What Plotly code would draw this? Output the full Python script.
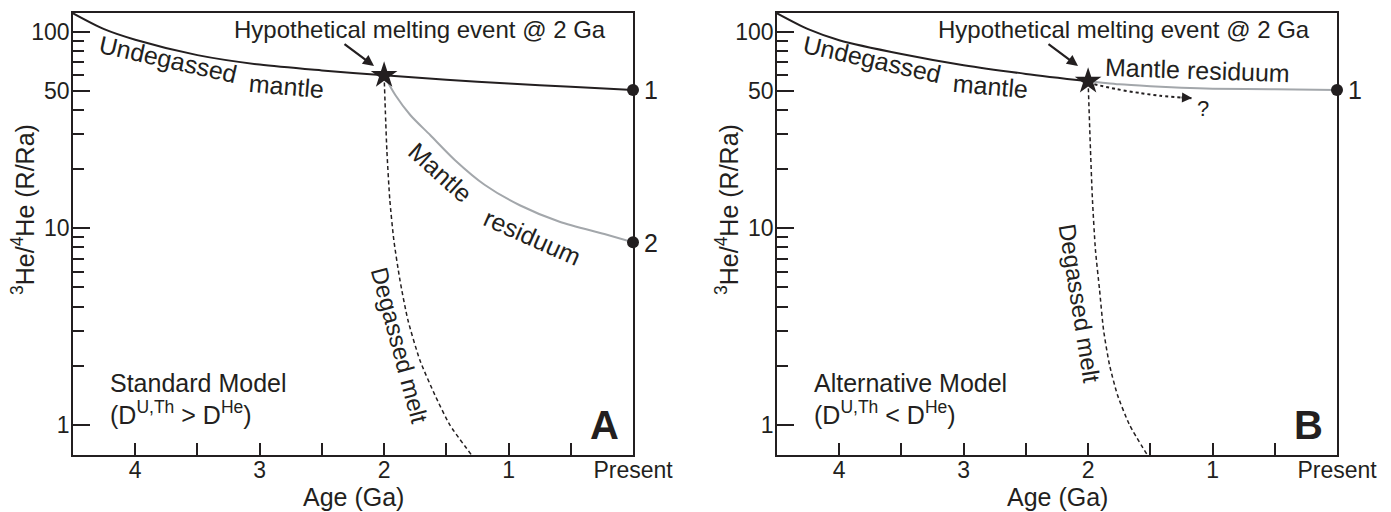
import plotly.graph_objects as go

W, H = 1391, 512
INK = "#231f20"
GRAY = "#a3a7ab"
FONT = "Liberation Sans, Arial, Helvetica, sans-serif"

# ---------------- data ----------------
# Panel A (Standard Model)
age_und_A = [4.5, 4.25, 4.0, 3.5, 3.0, 2.5, 2.0, 1.5, 1.0, 0.5, 0.0]
ratio_und_A = [124, 103, 91, 76, 68, 63.5, 60, 57, 54.5, 52.5, 50.5]
age_res_A = [2.0, 1.91, 1.79, 1.63, 1.43, 1.19, 0.91, 0.59, 0.23, 0.0]
ratio_res_A = [60, 47.6, 37.7, 29.8, 22.2, 16.6, 13.1, 10.8, 9.35, 8.5]
age_melt_A = [2.0, 1.978, 1.954, 1.922, 1.873, 1.809, 1.713, 1.592, 1.472, 1.295]
ratio_melt_A = [60, 25.0, 13.9, 8.72, 5.46, 3.42, 2.14, 1.42, 1.0, 0.70]
age_star_A = [2.0]
ratio_star_A = [60]
age_pts_A = [0.0, 0.0]
ratio_pts_A = [50.5, 8.5]

# Panel B (Alternative Model)
age_und_B = [4.5, 4.25, 4.0, 3.5, 3.0, 2.5, 2.0]
ratio_und_B = [124, 103, 90.5, 77, 67.5, 61, 56]
age_res_B = [2.0, 1.9, 1.75, 1.5, 1.25, 1.0, 0.5, 0.0]
ratio_res_B = [56, 55.2, 54.0, 52.8, 51.9, 51.3, 50.9, 50.5]
age_melt_B = [2.0, 1.981, 1.965, 1.941, 1.908, 1.876, 1.828, 1.764, 1.667, 1.522]
ratio_melt_B = [56, 25.0, 13.9, 7.76, 4.86, 3.04, 2.02, 1.42, 1.0, 0.70]
age_dot_B = [1.95, 1.77, 1.58, 1.42, 1.24, 1.17]
ratio_dot_B = [54, 51, 48.7, 47.2, 46.2, 45.9]
age_star_B = [2.0]
ratio_star_B = [56]
age_pts_B = [0.0]
ratio_pts_B = [50.5]

# axes ticks
x_tickvals = [4, 3.5, 3, 2.5, 2, 1.5, 1, 0.5, 0]
x_ticktext = ["4", "", "3", "", "2", "", "1", "", "Present"]
y_tickvals = [1, 10, 50, 100]
y_ticktext = ["1", "10", "50", "100"]
y_minor = [2, 3, 4, 5, 6, 7, 8, 9, 20, 30, 40, 60, 70, 80, 90]

fig = go.Figure()


def add_panel(xa, ya, und, res, melt, star, pts):
    fig.add_trace(go.Scatter(x=und[0], y=und[1], mode="lines", xaxis=xa, yaxis=ya,
                             line=dict(color=INK, width=2, shape="spline", smoothing=0.8)))
    fig.add_trace(go.Scatter(x=res[0], y=res[1], mode="lines", xaxis=xa, yaxis=ya,
                             line=dict(color=GRAY, width=2, shape="spline", smoothing=0.8)))
    fig.add_trace(go.Scatter(x=melt[0], y=melt[1], mode="lines", xaxis=xa, yaxis=ya,
                             line=dict(color=INK, width=1.5, dash="4px,3px", shape="spline", smoothing=0.6)))
    fig.add_trace(go.Scatter(x=star[0], y=star[1], mode="markers", xaxis=xa, yaxis=ya,
                             cliponaxis=False,
                             marker=dict(symbol="star", size=20, color=INK, line=dict(width=0))))
    fig.add_trace(go.Scatter(x=pts[0], y=pts[1], mode="markers", xaxis=xa, yaxis=ya,
                             cliponaxis=False,
                             marker=dict(symbol="circle", size=12, color=INK, line=dict(width=0))))


add_panel("x", "y", (age_und_A, ratio_und_A), (age_res_A, ratio_res_A),
          (age_melt_A, ratio_melt_A), (age_star_A, ratio_star_A), (age_pts_A, ratio_pts_A))
add_panel("x2", "y2", (age_und_B, ratio_und_B), (age_res_B, ratio_res_B),
          (age_melt_B, ratio_melt_B), (age_star_B, ratio_star_B), (age_pts_B, ratio_pts_B))
fig.add_trace(go.Scatter(x=age_dot_B, y=ratio_dot_B, mode="lines", xaxis="x2", yaxis="y2",
                         line=dict(color=INK, width=2, dash="dot", shape="spline", smoothing=0.8)))

# ---------------- axes ----------------
def xaxis(dom, anchor):
    return dict(domain=dom, anchor=anchor, range=[4.5, 0], tickmode="array",
                tickvals=x_tickvals, ticktext=x_ticktext, ticks="inside", ticklen=12,
                tickwidth=1.5, tickcolor=INK, showline=True, mirror=True, linecolor=INK,
                linewidth=1.6, showgrid=False, zeroline=False, automargin=False,
                ticklabelstandoff=-6,
                tickfont=dict(family=FONT, size=23, color=INK))


def yaxis(anchor):
    return dict(domain=[57 / H, 499 / H], anchor=anchor, type="log", range=[-0.153, 2.095],
                tickmode="array", tickvals=y_tickvals, ticktext=y_ticktext, ticks="inside",
                ticklen=17, tickwidth=1.5, tickcolor=INK, showline=True, mirror=True,
                linecolor=INK, linewidth=1.6, showgrid=False, zeroline=False, automargin=False,
                ticklabelstandoff=-3,
                minor=dict(ticks="inside", ticklen=11, tickwidth=1.5, tickcolor=INK,
                           tickmode="array", tickvals=y_minor, showgrid=False),
                tickfont=dict(family=FONT, size=23, color=INK))


fig.update_layout(
    width=W, height=H, autosize=False,
    margin=dict(l=0, r=0, t=0, b=0, pad=0, autoexpand=False),
    paper_bgcolor="white", plot_bgcolor="white", showlegend=False,
    xaxis=xaxis([73 / W, 633 / W], "y"),
    yaxis=yaxis("x"),
    xaxis2=xaxis([777 / W, 1337 / W], "y2"),
    yaxis2=yaxis("x2"),
)

# ---------------- annotations ----------------
anns = []


def txt(px, py, text, size=25, angle=0, xanchor="center"):
    anns.append(dict(x=px / W, y=1 - py / H, xref="paper", yref="paper", text=text,
                     showarrow=False, textangle=angle, xanchor=xanchor, yanchor="middle",
                     font=dict(family=FONT, size=size, color=INK)))


def arrow(hx, hy, tx, ty, head=2, width=2.2):
    anns.append(dict(x=hx / W, y=1 - hy / H, xref="paper", yref="paper", text="",
                     showarrow=True, ax=tx - hx, ay=ty - hy, axref="pixel", ayref="pixel",
                     arrowhead=head, arrowsize=1, arrowwidth=width, arrowcolor=INK))


for off, label, model, rel in [(0, "A", "Standard Model", "&gt;"), (704, "B", "Alternative Model", "&lt;")]:
    txt(420 + off, 29, "Hypothetical melting event @ 2 Ga", size=24)
    arrow(374 + off, 66, 343 + off, 43)
    txt(168 + off, 59, "Undegassed", size=25, angle=12.7)
    txt(286 + off, 86, "mantle", size=25, angle=5)
    txt(108 + off, 383, model, size=25, xanchor="left")
    txt(108 + off, 413, "(D<sup>U,Th</sup> " + rel + " D<sup>He</sup>)", size=25, xanchor="left")
    txt(604 + off, 425, "<b>" + label + "</b>", size=40)
    txt(353 + off, 497, "Age (Ga)", size=25)
    txt(23 + off, 210, "<sup>3</sup>He/<sup>4</sup>He (R/Ra)", size=25, angle=-90)
    txt(651 + off, 90, "1", size=25)

# panel A specific
txt(440, 172, "Mantle", size=25, angle=42)
txt(532, 237, "residuum", size=25, angle=24)
txt(400, 345, "Degassed melt", size=24, angle=75)
txt(651, 243, "2", size=25)
# panel B specific
txt(1197, 70, "Mantle residuum", size=25, angle=2)
txt(1080, 303, "Degassed melt", size=24, angle=81)
txt(1203, 108, "?", size=22)
arrow(1192, 98, 1180, 97.5, head=2, width=2)

fig.update_layout(annotations=anns)
fig.write_html("out.html")
